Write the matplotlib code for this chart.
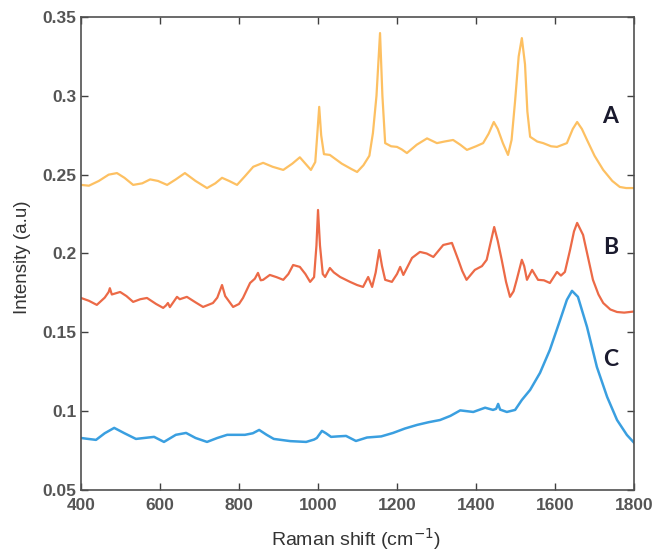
import matplotlib
matplotlib.use('Agg')
import matplotlib.pyplot as plt
from matplotlib.ticker import FormatStrFormatter

# spectrum A (orange)
a_wn = [400, 420, 445, 470, 491, 510, 532, 555, 575, 595, 618, 640, 663, 690,
        719, 740, 757, 775, 795, 815, 836, 861, 885, 912, 935, 954, 968, 982,
        993, 998, 1003, 1008, 1015, 1030, 1060, 1085, 1099, 1115, 1130, 1139,
        1148, 1157, 1163, 1170, 1185, 1200, 1212, 1225, 1250, 1276, 1301, 1320,
        1342, 1360, 1377, 1400, 1418, 1432, 1445, 1455, 1468, 1481, 1490, 1499,
        1508, 1516, 1524, 1530, 1537, 1555, 1570, 1590, 1605, 1630, 1645, 1656,
        1668, 1681, 1700, 1722, 1745, 1764, 1780, 1800]
a_int = [0.2435, 0.243, 0.246, 0.250, 0.251, 0.248, 0.2435, 0.2445, 0.247,
         0.246, 0.2435, 0.247, 0.251, 0.246, 0.2415, 0.2445, 0.248, 0.246,
         0.2435, 0.249, 0.255, 0.2575, 0.255, 0.253, 0.257, 0.261, 0.257,
         0.253, 0.258, 0.275, 0.293, 0.275, 0.263, 0.2625, 0.257, 0.2535,
         0.2517, 0.256, 0.262, 0.2764, 0.300, 0.3398, 0.300, 0.270, 0.268,
         0.2676, 0.266, 0.2637, 0.269, 0.273, 0.270, 0.271, 0.272, 0.269,
         0.2657, 0.268, 0.270, 0.276, 0.2834, 0.279, 0.270, 0.2625, 0.272,
         0.297, 0.325, 0.3366, 0.320, 0.290, 0.274, 0.271, 0.270, 0.268,
         0.2676, 0.270, 0.279, 0.2834, 0.279, 0.272, 0.262, 0.253, 0.246,
         0.2422, 0.2415, 0.2415]

# spectrum B (red)
b_wn = [400, 420, 440, 460, 470, 473, 478, 499, 515, 532, 550, 567, 590, 608,
        615, 620, 625, 643, 650, 668, 690, 709, 734, 745, 757, 765, 785, 800,
        810, 828, 840, 848, 855, 861, 878, 895, 912, 925, 937, 954, 968, 980,
        990, 996, 1000, 1005, 1012, 1018, 1030, 1040, 1056, 1081, 1099, 1114,
        1127, 1137, 1146, 1155, 1162, 1170, 1187, 1200, 1208, 1216, 1238, 1258,
        1275, 1292, 1317, 1339, 1355, 1365, 1376, 1397, 1415, 1427, 1437, 1446,
        1455, 1465, 1476, 1486, 1495, 1503, 1516, 1522, 1529, 1542, 1557, 1572,
        1587, 1605, 1615, 1625, 1638, 1648, 1656, 1671, 1684, 1696, 1710, 1722,
        1740, 1757, 1775, 1800]
b_int = [0.1718, 0.170, 0.1674, 0.172, 0.1756, 0.178, 0.174, 0.1756, 0.173,
         0.1693, 0.171, 0.1718, 0.168, 0.1655, 0.167, 0.1686, 0.166, 0.1725,
         0.171, 0.1725, 0.169, 0.1661, 0.1686, 0.172, 0.180, 0.173, 0.1661,
         0.168, 0.1718, 0.1813, 0.184, 0.1877, 0.183, 0.1833, 0.1864, 0.185,
         0.1833, 0.187, 0.1927, 0.1915, 0.187, 0.182, 0.185, 0.205, 0.2276,
         0.205, 0.187, 0.1851, 0.1908, 0.188, 0.1851, 0.182, 0.180, 0.1788,
         0.1851, 0.1788, 0.188, 0.2022, 0.192, 0.1833, 0.182, 0.187, 0.1915,
         0.1864, 0.1972, 0.201, 0.200, 0.1978, 0.2054, 0.2067, 0.196, 0.189,
         0.1833, 0.1896, 0.192, 0.196, 0.207, 0.2168, 0.208, 0.196, 0.182,
         0.1725, 0.176, 0.1833, 0.196, 0.192, 0.1833, 0.1896, 0.1833, 0.183,
         0.1813, 0.1883, 0.186, 0.1883, 0.2022, 0.214, 0.2194, 0.2118, 0.197,
         0.1833, 0.174, 0.1686, 0.1645, 0.1629, 0.1625, 0.1632]

# spectrum C (blue)
c_wn = [400, 415, 438, 460, 484, 510, 539, 560, 585, 610, 640, 666, 690, 719,
        745, 770, 815, 835, 851, 870, 888, 930, 970, 990, 997, 1010, 1020,
        1033, 1050, 1071, 1096, 1124, 1160, 1190, 1220, 1251, 1280, 1309, 1335,
        1360, 1393, 1423, 1443, 1451, 1456, 1461, 1478, 1499, 1516, 1537, 1562,
        1587, 1613, 1630, 1643, 1658, 1681, 1706, 1732, 1757, 1782, 1800]
c_int = [0.083, 0.0825, 0.0818, 0.086, 0.0894, 0.086, 0.0824, 0.083, 0.0837,
         0.0805, 0.085, 0.0862, 0.083, 0.0805, 0.083, 0.085, 0.085, 0.086,
         0.0881, 0.085, 0.0824, 0.081, 0.0805, 0.082, 0.083, 0.0875, 0.086,
         0.0837, 0.084, 0.0843, 0.0811, 0.0833, 0.084, 0.0862, 0.089, 0.0913,
         0.093, 0.0944, 0.097, 0.1005, 0.0995, 0.1022, 0.1008, 0.1015, 0.1046,
         0.101, 0.0995, 0.1008, 0.1071, 0.1135, 0.1243, 0.1389, 0.1579, 0.1706,
         0.1763, 0.1725, 0.1534, 0.128, 0.109, 0.0944, 0.0849, 0.080]

labels = ['A', 'B', 'C']
label_wn = [1740, 1740, 1740]
label_int = [0.2866, 0.2035, 0.1325]

fig = plt.figure(figsize=(6.56, 5.53), dpi=100)
ax = fig.add_axes([0.1235, 0.1139, 0.843, 0.8554])

ax.plot(a_wn, a_int, color='#FDC062', lw=1.6)
ax.plot(b_wn, b_int, color='#EC6A47', lw=1.6)
ax.plot(c_wn, c_int, color='#3A9FE0', lw=1.8)

for lab, x, y in zip(labels, label_wn, label_int):
    ax.text(x, y, lab, fontsize=16.5, family='Lato', fontweight='bold',
            color='#1a1a2e', ha='center', va='center')

ax.set_xlim(400, 1800)
ax.set_ylim(0.05, 0.35)
ax.set_xticks(range(400, 1801, 200))
ax.set_yticks([0.05, 0.1, 0.15, 0.2, 0.25, 0.3, 0.35])
ax.yaxis.set_major_formatter(FormatStrFormatter('%g'))
ax.tick_params(direction='in', top=True, right=True, length=5, width=1,
               color='#404040', labelsize=12.5, labelcolor='#555555')
ax.tick_params(axis='x', pad=6)
for lbl in ax.get_xticklabels() + ax.get_yticklabels():
    lbl.set_family('Liberation Sans')
    lbl.set_fontweight('bold')
for s in ax.spines.values():
    s.set_color('#505050')
    s.set_linewidth(1.2)

ax.set_xlabel('Raman shift (cm$^{-1}$)', fontsize=14, family='Liberation Sans',
              color='#333333')
ax.set_ylabel('Intensity (a.u)', fontsize=13.5, family='Liberation Sans',
              color='#333333')
ax.xaxis.set_label_coords(0.497, -0.076)
ax.yaxis.set_label_coords(-0.09, 0.493)

fig.savefig('out.png', dpi=100)
